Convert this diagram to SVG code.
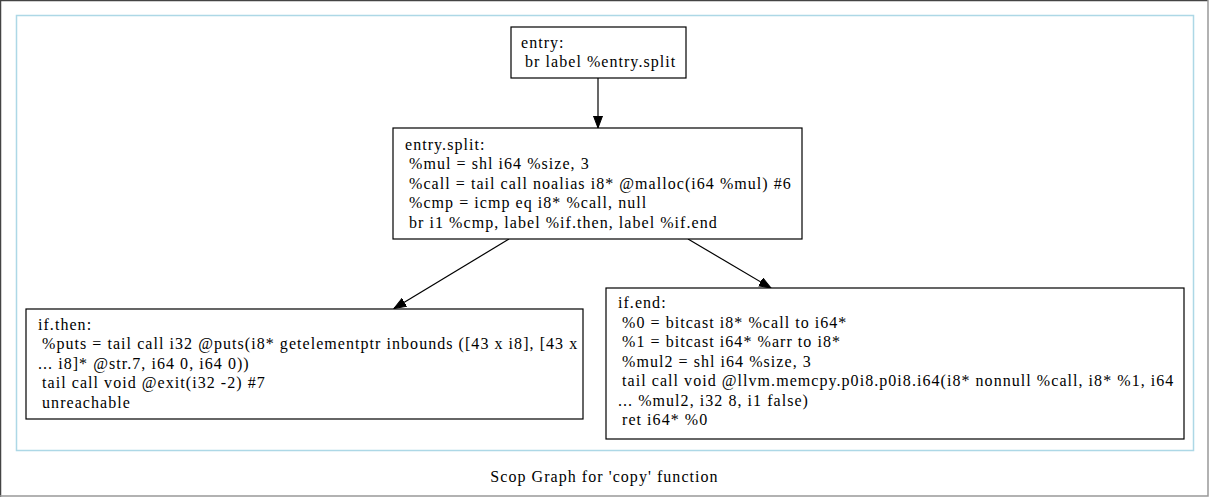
<svg xmlns="http://www.w3.org/2000/svg" width="1209" height="497" viewBox="0 0 1209 497">
<defs>
<style>
text{font-family:"Liberation Serif","Times New Roman",serif;font-size:16px;letter-spacing:1.05px;fill:#000}
.node{fill:#fff;stroke:#000;stroke-width:1.2}
.edge{stroke:#000;stroke-width:1.2;fill:none}
</style>
<marker id="arr" markerUnits="userSpaceOnUse" markerWidth="13" markerHeight="11" refX="12" refY="5" orient="auto">
<path d="M0,0.5 L12,5 L0,9.5 z" fill="#000" stroke="#000" stroke-width="1"/>
</marker>
</defs>
<rect x="0" y="0" width="1209" height="497" fill="#fff"/>
<path d="M0.5,497 V0.5 H1208" stroke="#444" stroke-width="1.5" fill="none"/>
<path d="M1208,0 V496 H0" stroke="#999" stroke-width="1.5" fill="none"/>
<rect id="cluster" x="16.5" y="15.5" width="1177" height="435" fill="none" stroke="#add8e6" stroke-width="1.5"/>
<g id="edges">
<line class="edge" x1="598" y1="78" x2="598" y2="128" marker-end="url(#arr)"/>
<line class="edge" x1="509" y1="239" x2="394" y2="308.5" marker-end="url(#arr)"/>
<line class="edge" x1="688" y1="239" x2="771" y2="288" marker-end="url(#arr)"/>
</g>
<g id="entry">
<rect class="node" x="511" y="27" width="175" height="51"/>
<text x="521" y="47.5">entry:</text>
<text x="520" y="66.5" xml:space="preserve"> br label %entry.split</text>
</g>
<g id="entry.split">
<rect class="node" x="393" y="128" width="409" height="111"/>
<text x="405" y="149.5">entry.split:</text>
<text x="404" y="169" xml:space="preserve"> %mul = shl i64 %size, 3</text>
<text x="404" y="188.5" xml:space="preserve"> %call = tail call noalias i8* @malloc(i64 %mul) #6</text>
<text x="404" y="208" xml:space="preserve"> %cmp = icmp eq i8* %call, null</text>
<text x="404" y="227.5" xml:space="preserve"> br i1 %cmp, label %if.then, label %if.end</text>
</g>
<g id="if.then">
<rect class="node" x="26" y="309" width="557" height="110"/>
<text x="38" y="329.5">if.then:</text>
<text x="37" y="349" xml:space="preserve"> %puts = tail call i32 @puts(i8* getelementptr inbounds ([43 x i8], [43 x</text>
<text x="38" y="368.5" xml:space="preserve">... i8]* @str.7, i64 0, i64 0))</text>
<text x="37" y="388" xml:space="preserve"> tail call void @exit(i32 -2) #7</text>
<text x="37" y="407.5" xml:space="preserve"> unreachable</text>
</g>
<g id="if.end">
<rect class="node" x="606" y="288" width="578" height="151"/>
<text x="618" y="308">if.end:</text>
<text x="617" y="327.5" xml:space="preserve"> %0 = bitcast i8* %call to i64*</text>
<text x="617" y="347" xml:space="preserve"> %1 = bitcast i64* %arr to i8*</text>
<text x="617" y="366.5" xml:space="preserve"> %mul2 = shl i64 %size, 3</text>
<text x="617" y="386" xml:space="preserve"> tail call void @llvm.memcpy.p0i8.p0i8.i64(i8* nonnull %call, i8* %1, i64</text>
<text x="618" y="405.5" xml:space="preserve">... %mul2, i32 8, i1 false)</text>
<text x="617" y="425" xml:space="preserve"> ret i64* %0</text>
</g>
<text x="604.5" y="481.5" text-anchor="middle">Scop Graph for 'copy' function</text>
</svg>
